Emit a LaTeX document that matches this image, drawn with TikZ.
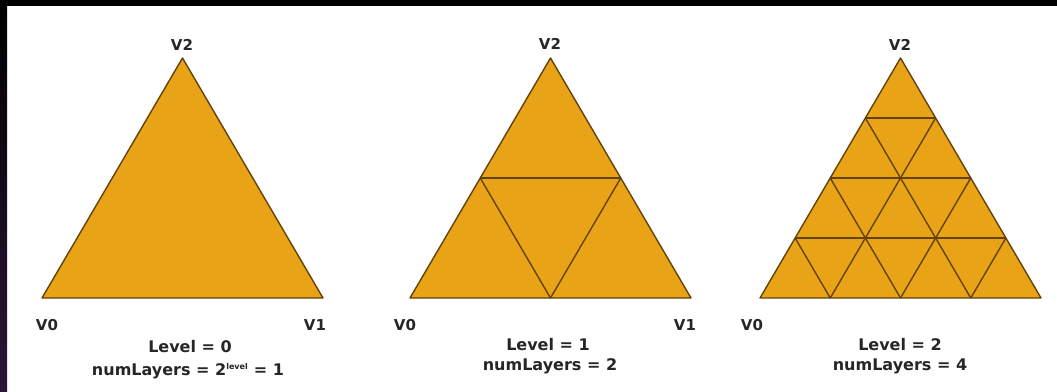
\documentclass[tikz,border=0pt]{standalone}
\usepackage{fontspec}
\setmainfont{DejaVu Sans}
\usetikzlibrary{calc}
\definecolor{triorange}{HTML}{E9A316}
\definecolor{triedge}{HTML}{634308}
\definecolor{frameviolet}{HTML}{2C1638}
\definecolor{labelgray}{HTML}{262626}

\begin{document}
\begin{tikzpicture}[x=1pt, y=-1pt,
  tri/.style={fill=triorange, draw=triedge, line width=1.4pt, line join=round},
  grid/.style={draw=triedge, line width=1.4pt},
  vlabel/.style={font=\bfseries\fontsize{15}{17}\selectfont, text=labelgray},
  caption/.style={font=\bfseries\fontsize{16}{18}\selectfont, text=labelgray},
]
  % Frame
  \fill[white] (0,0) rectangle (1057,391);
  \fill[black] (0,0) rectangle (1057,6);
  \shade[top color=black, bottom color=frameviolet] (0,6) rectangle (7,391);

  % Triangle corners
  \foreach \t/\x in {a/42, b/410, c/760} {
    \coordinate (\t0) at (\x, 298);
    \coordinate (\t1) at (\x+281, 298);
    \coordinate (\t2) at (\x+140.5, 58);
  }

  % Triangles
  \draw[tri] (a0) -- (a1) -- (a2) -- cycle;
  \draw[tri] (b0) -- (b1) -- (b2) -- cycle;
  \draw[tri] (c0) -- (c1) -- (c2) -- cycle;

  % Subdivision
  \foreach \t/\k in {b/2, c/4} {
    \pgfmathtruncatemacro\last{\k-1}
    \foreach \i in {1,...,\last} {
      \pgfmathsetmacro\f{\i/\k}
      \draw[grid] ($(\t0)!\f!(\t2)$) -- ($(\t1)!\f!(\t2)$);
      \draw[grid] ($(\t0)!\f!(\t1)$) -- ($(\t2)!\f!(\t1)$);
      \draw[grid] ($(\t0)!\f!(\t1)$) -- ($(\t0)!\f!(\t2)$);
    }
  }

  % Vertex labels
  \node[vlabel] (a2l) at (182,45)  {V2};
  \node[vlabel] (a0l) at (47,325)  {V0};
  \node[vlabel] (a1l) at (315,325) {V1};
  \node[vlabel] (b2l) at (550,44)  {V2};
  \node[vlabel] (b0l) at (405,325) {V0};
  \node[vlabel] (b1l) at (685,325) {V1};
  \node[vlabel] (c2l) at (900,45)  {V2};
  \node[vlabel] (c0l) at (752,325) {V0};

  % Captions
  \node[caption] (alev) at (190,347) {Level = 0};
  \node[caption] (anum) at (188,371) {numLayers = 2\textsuperscript{\fontsize{8}{9}\selectfont level} = 1};
  \node[caption] (blev) at (548,345) {Level = 1};
  \node[caption] (bnum) at (550,366) {numLayers = 2};
  \node[caption] (clev) at (900,345) {Level = 2};
  \node[caption] (cnum) at (900,366) {numLayers = 4};
\end{tikzpicture}
\end{document}
